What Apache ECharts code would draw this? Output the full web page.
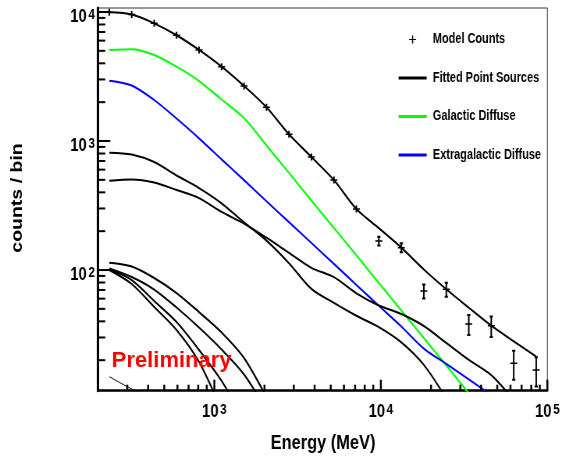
<!DOCTYPE html>
<html><head><meta charset="utf-8">
<script src="https://cdn.jsdelivr.net/npm/echarts@6/dist/echarts.min.js"></script>
<style>
html,body{margin:0;padding:0;background:#fff;overflow:hidden}
#wrap{width:562px;height:456px;overflow:hidden;position:relative}
#chart{width:720px;height:456px;transform:scaleX(0.780556);transform-origin:0 0}
</style>
</head><body><div id="wrap"><div id="chart"></div></div>
<script>
// ---- data ----
const energies = [234, 319, 435, 593, 809, 1105, 1507, 2056, 2806, 3829, 5224, 7129, 9727, 13273, 18110, 24713, 33720, 46011, 62783, 85665];
const modelCounts = [9950, 9570, 8170, 6600, 5076, 3767, 2670, 1825, 1127, 751, 498, 297, 168, 149, 68.7, 70.9, 38.1, 37, 18.9, 16.8];
const modelErr = [100, 98, 90, 81, 71, 61, 52, 43, 34, 27, 22, 17, 13, 12, 8.5, 8.9, 6.7, 6.7, 4.8, 4.3];
const totalModel = [9950, 9570, 8170, 6600, 5076, 3767, 2670, 1825, 1127, 751, 498, 297, 211, 149, 101, 70.9, 51, 37, 28, 21.3];
const galactic = [5075, 5138, 4642, 3767, 2918, 2098, 1509, 924, 566, 346, 212, 130, 79.3, 48.6, 29.7, 18.2, 11.1, 6.8];
const extragalactic = [2934, 2693, 2079, 1494, 1048, 720, 497, 341, 235, 162, 111.5, 76.6, 52.8, 36.5, 24.6, 18.7, 14.2, 10.7];
const srcA = [812, 786, 687, 540, 432, 329, 234, 169, 113, 71.4, 55.6, 44.2, 36.1, 27.5, 18.4, 10.1];
const srcB = [492, 503, 477, 417, 361, 282, 229, 178, 136, 104, 88, 66, 53.1, 45.6, 36.8, 27.2, 20.1, 15.3, 9.8];
const srcC = [114, 106.4, 86.7, 66.3, 47.2, 32.8, 20.8, 10.3];
const srcD = [103, 88.3, 70.6, 51.2, 35.8, 24.2, 15.5, 8.2];
const srcE = [101.2, 83.6, 57.5, 39.5, 24, 13.8, 6.9];
const srcF = [100, 77.9, 51.7, 34.3, 19.4, 8.2];
const srcG = [14.9, 11.95, 10];
const xMajorTicks = [1000, 10000, 100000];
const xMinorTicks = [300, 400, 500, 600, 700, 800, 900, 2000, 3000, 4000, 5000, 6000, 7000, 8000, 9000, 20000, 30000, 40000, 50000, 60000, 70000, 80000, 90000];
const yMajorTicks = [100, 1000, 10000];
const yMinorTicks = [20, 30, 40, 50, 60, 70, 80, 90, 200, 300, 400, 500, 600, 700, 800, 900, 2000, 3000, 4000, 5000, 6000, 7000, 8000, 9000];
const xRange = [200, 100000];
const yRange = [11.6, 10740];

// ---- drawing ----
const SX = 562 / 720;
const FONT = "'Liberation Sans', Arial, Helvetica, sans-serif";
const pairs = (vals) => vals.map((v, i) => [energies[i], v]);

function fmt(v) {
  const e = Math.log10(v), r = Math.round(e);
  if (Math.abs(e - r) > 1e-6) return '';
  return '{b|10}{s|' + r + '}';
}
const labelRich = {
  b: {fontFamily: FONT, fontWeight: 'bold', fontSize: 19, color: '#000', verticalAlign: 'bottom'},
  s: {fontFamily: FONT, fontWeight: 'bold', fontSize: 15, color: '#000', verticalAlign: 'top', padding: [0, 0, 0, 2]}
};

function lineSeries(name, vals, color, width) {
  return {
    type: 'line', name: name, data: pairs(vals), showSymbol: false, symbol: 'none',
    smooth: 0.3,
    color: color, lineStyle: {color: color, width: width}, clip: true, z: 3,
    emphasis: {disabled: true}, silent: true
  };
}

const boxPad = 'M0,0h0.01v0.01h-0.01zM38.99,13.99h0.01v0.01h-0.01z';
const lineIcon = 'path://M0,5.6h36v2.8h-36z' + boxPad;
const plusIcon = 'path://M17.3,3h1.4v8h-1.4zM13.5,6.4h9v1.2h-9z' + boxPad;

const chart = echarts.init(document.getElementById('chart'), null, {renderer: 'canvas'});
chart.setOption({
  animation: false,
  backgroundColor: '#fff',
  grid: {left: 125.5, right: 16, top: 8, bottom: 65.3, show: true, borderColor: '#333', borderWidth: 1, containLabel: false},
  xAxis: {
    type: 'log', logBase: 10, min: xRange[0], max: xRange[1],
    axisLine: {show: true, onZero: false, lineStyle: {color: '#000', width: 2.5}},
    axisTick: {show: false}, minorTick: {show: false}, splitLine: {show: false},
    axisLabel: {formatter: fmt, rich: labelRich, margin: 12, showMinLabel: true, showMaxLabel: true}
  },
  yAxis: {
    type: 'log', logBase: 10, min: yRange[0], max: yRange[1],
    axisLine: {show: true, onZero: false, lineStyle: {color: '#000', width: 3}},
    axisTick: {show: false}, minorTick: {show: false}, splitLine: {show: false},
    axisLabel: {formatter: fmt, rich: labelRich, margin: 4, padding: [9, 0, 0, 0]}
  },
  legend: {
    orient: 'vertical', left: 505.6, top: 27.5, itemWidth: 39, itemHeight: 14, itemGap: 24.5,
    selectedMode: false, itemStyle: {borderWidth: 0},
    textStyle: {fontFamily: FONT, fontWeight: 'bold', fontSize: 14, color: '#000'},
    data: [
      {name: 'Model Counts', icon: plusIcon},
      {name: 'Fitted Point Sources', icon: lineIcon},
      {name: 'Galactic Diffuse', icon: lineIcon},
      {name: 'Extragalactic Diffuse', icon: lineIcon}
    ]
  },
  graphic: [
    {type: 'text', x: 23, y: 198, rotation: Math.PI / 2,
     style: {text: 'counts / bin', fontFamily: FONT, fontWeight: 'bold', fontSize: 19.5, fill: '#000', align: 'center', verticalAlign: 'middle'}},
    {type: 'text', x: 413.8, y: 443,
     style: {text: 'Energy (MeV)', fontFamily: FONT, fontWeight: 'bold', fontSize: 21, fill: '#000', align: 'center', verticalAlign: 'middle'}},
    {type: 'text', x: 143.1, y: 360.5, scaleX: 1 / SX, z: 100,
     style: {text: 'Preliminary', fontFamily: FONT, fontWeight: 'bold', fontSize: 22, fill: '#ff0000', align: 'left', verticalAlign: 'middle'}}
  ],
  series: [
    lineSeries('Total Model', totalModel, '#000', 2),
    lineSeries('Galactic Diffuse', galactic, '#00ff00', 2),
    lineSeries('Extragalactic Diffuse', extragalactic, '#0000ff', 2),
    lineSeries('Fitted Point Sources', srcA, '#000', 2),
    lineSeries('Fitted Point Sources', srcB, '#000', 2),
    lineSeries('Fitted Point Sources', srcC, '#000', 2),
    lineSeries('Fitted Point Sources', srcD, '#000', 2),
    lineSeries('Fitted Point Sources', srcE, '#000', 2),
    lineSeries('Fitted Point Sources', srcF, '#000', 2),
    lineSeries('Fitted Point Sources', srcG, '#000', 1),
    {
      type: 'custom', name: 'Model Counts', clip: true, z: 6, silent: true,
      itemStyle: {color: '#000'}, color: '#000',
      data: energies.map((e, i) => [e, modelCounts[i], modelErr[i]]),
      encode: {x: 0, y: 1},
      renderItem: function (params, api) {
        const E = api.value(0), N = api.value(1), err = api.value(2);
        const p = api.coord([E, N]);
        const ph = api.coord([E, N + err]);
        const pl = api.coord([E, Math.max(N - err, 1e-3)]);
        const arm = 3.5, harm = 3.5 / SX, cap = 1.6 / SX;
        const top = Math.min(ph[1], p[1] - arm), bot = Math.max(pl[1], p[1] + arm);
        const st = {stroke: '#000', lineWidth: 2};
        const ch = [
          {type: 'line', shape: {x1: p[0], y1: top, x2: p[0], y2: bot}, style: st},
          {type: 'line', shape: {x1: p[0] - harm, y1: p[1], x2: p[0] + harm, y2: p[1]}, style: {stroke: '#000', lineWidth: 1.5}}
        ];
        if (ph[1] < p[1] - arm) ch.push({type: 'line', shape: {x1: p[0] - cap, y1: ph[1], x2: p[0] + cap, y2: ph[1]}, style: {stroke: '#000', lineWidth: 2}});
        if (pl[1] > p[1] + arm) ch.push({type: 'line', shape: {x1: p[0] - cap, y1: pl[1], x2: p[0] + cap, y2: pl[1]}, style: {stroke: '#000', lineWidth: 2}});
        return {type: 'group', children: ch};
      }
    },
    {
      type: 'custom', name: 'xticks', clip: false, z: 7, silent: true,
      data: xMajorTicks.map(v => [v, 1000, 1]).concat(xMinorTicks.map(v => [v, 1000, 0])),
      encode: {x: 0, y: 1},
      renderItem: function (params, api) {
        const cs = params.coordSys;
        const x = api.coord([api.value(0), 1000])[0];
        const y0 = cs.y + cs.height;
        const len = api.value(2) ? 11 : 6;
        return {type: 'line', shape: {x1: x, y1: y0, x2: x, y2: y0 - len}, style: {stroke: '#000', lineWidth: 2.5}};
      }
    },
    {
      type: 'custom', name: 'yticks', clip: false, z: 7, silent: true,
      data: yMajorTicks.map(v => [1000, v, 1]).concat(yMinorTicks.map(v => [1000, v, 0])),
      encode: {x: 0, y: 1},
      renderItem: function (params, api) {
        const cs = params.coordSys;
        const y = api.coord([1000, api.value(1)])[1];
        const x0 = cs.x;
        const len = (api.value(2) ? 12.3 : 7.3) / SX;
        return {type: 'line', shape: {x1: x0, y1: y, x2: x0 + len, y2: y}, style: {stroke: '#000', lineWidth: 2}};
      }
    }
  ]
});
</script>
</body></html>
